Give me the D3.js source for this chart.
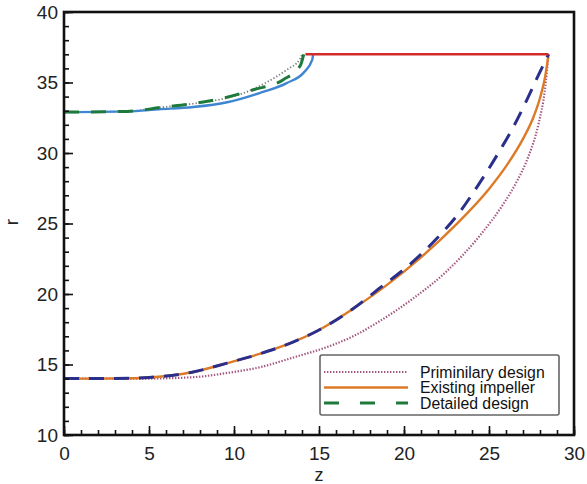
<!DOCTYPE html>
<html>
<head>
<meta charset="utf-8">
<script src="https://cdn.jsdelivr.net/npm/d3@7"></script>
<style>
  html, body { margin: 0; padding: 0; background: #fff; }
  svg { display: block; font-family: "Liberation Sans", Arial, sans-serif; }
</style>
</head>
<body>
<svg id="chart" width="587" height="484"></svg>
<script>
// Meridional profile of the impeller: hub (lower) and shroud (upper) contours, r vs z

// Hub contours
const hubExistingZ = [0, 2, 4, 5, 7.6, 9.6, 11.5, 13.5, 15, 17, 19, 21, 23, 25, 26, 27, 27.6, 28, 28.3, 28.5];
const hubExistingR = [14, 14, 14.02, 14.08, 14.47, 15.1, 15.75, 16.6, 17.45, 18.95, 20.65, 22.6, 24.85, 27.45, 29.05, 31.0, 32.5, 33.9, 35.4, 37];

const hubDetailedZ = [0, 2, 4, 5, 7.6, 9.6, 11.5, 13.5, 15, 17, 18.6, 20.2, 21.7, 23.3, 24.3, 25.5, 26.5, 27.2, 27.9, 28.5];
const hubDetailedR = [14, 14, 14.02, 14.08, 14.47, 15.1, 15.75, 16.6, 17.45, 18.95, 20.45, 21.95, 23.65, 25.85, 27.6, 29.9, 32.0, 33.7, 35.5, 37];

const hubPrelimZ = [0, 3, 4.65, 7.6, 9.6, 11.5, 13.5, 15.5, 17, 18.6, 20.5, 22.5, 24.5, 25.8, 26.6, 27.3, 27.9, 28.3, 28.5];
const hubPrelimR = [14, 14, 14.0, 14.1, 14.4, 14.8, 15.5, 16.25, 17.0, 18.1, 19.65, 21.6, 24.2, 26.3, 27.9, 29.7, 32.0, 34.6, 37];

// Shroud contours
const shroudExistingZ = [0, 3.7, 5.6, 7.6, 9.6, 11.5, 13.1, 14.1, 14.6, 14.65];
const shroudExistingR = [32.9, 32.95, 33.1, 33.26, 33.6, 34.25, 34.96, 35.7, 36.6, 37];

const shroudDetailedZ = [0, 3.7, 5.8, 7.6, 9.4, 11.1, 12.9, 13.9, 14.1];
const shroudDetailedR = [32.9, 32.95, 33.25, 33.5, 33.9, 34.47, 35.2, 36.2, 37];

const shroudPrelimZ = [0, 3.7, 5.8, 7.6, 9.4, 10.2, 11.9, 13.1, 13.9, 14.0];
const shroudPrelimR = [32.9, 32.95, 33.25, 33.5, 33.85, 34.1, 35.0, 35.9, 36.7, 37];

// Shroud outlet (constant radius)
const outletZ = [14.2, 28.5];
const outletR = [37, 37];

const xTicks = [0, 5, 10, 15, 20, 25, 30];
const yTicks = [10, 15, 20, 25, 30, 35, 40];
const legendLabels = ["Priminilary design", "Existing impeller", "Detailed design"];

const svg = d3.select("#chart");
const margin = { left: 64, top: 12, right: 13, bottom: 49 };
const W = 587 - margin.left - margin.right;
const H = 484 - margin.top - margin.bottom;

const x = d3.scaleLinear().domain([0, 30]).range([0, W]);
const y = d3.scaleLinear().domain([10, 40]).range([H, 0]);

const g = svg.append("g").attr("transform", `translate(${margin.left},${margin.top})`);

const zip = (zs, rs) => zs.map((z, i) => [z, rs[i]]);
const line = d3.line().x(d => x(d[0])).y(d => y(d[1])).curve(d3.curveMonotoneX);

const series = [
  { z: hubPrelimZ, r: hubPrelimR, color: "#a4567f", width: 2.2, dash: "1.4 1.6" },
  { z: hubExistingZ, r: hubExistingR, color: "#dc7a27", width: 2.4, dash: null },
  { z: hubDetailedZ, r: hubDetailedR, color: "#2b2f8c", width: 3, dash: "15 10" },
  { z: shroudPrelimZ, r: shroudPrelimR, color: "#7a7a7a", width: 1.8, dash: "1.3 2" },
  { z: shroudExistingZ, r: shroudExistingR, color: "#3f86d2", width: 2.4, dash: null },
  { z: shroudDetailedZ, r: shroudDetailedR, color: "#1e7a3a", width: 3, dash: "15 12" },
  { z: outletZ, r: outletR, color: "#d42a2a", width: 2.6, dash: null }
];

g.selectAll("path.curve").data(series).enter().append("path")
  .attr("class", "curve")
  .attr("d", s => line(zip(s.z, s.r)))
  .attr("fill", "none")
  .attr("stroke", s => s.color)
  .attr("stroke-width", s => s.width)
  .attr("stroke-dasharray", s => s.dash);

// Axes: inward ticks, majors every 5, minors every 1
const xMinor = g.append("g").attr("transform", `translate(0,${H})`)
  .call(d3.axisBottom(x).tickValues(d3.range(0, 31, 1)).tickSize(-5).tickFormat(""));
const yMinor = g.append("g")
  .call(d3.axisLeft(y).tickValues(d3.range(10, 41, 1)).tickSize(-5).tickFormat(""));
const xMajor = g.append("g").attr("transform", `translate(0,${H})`)
  .call(d3.axisBottom(x).tickValues(xTicks).tickSize(-9).tickPadding(12).tickFormat(d3.format("d")));
const yMajor = g.append("g")
  .call(d3.axisLeft(y).tickValues(yTicks).tickSize(-9).tickPadding(6).tickFormat(d3.format("d")));

[xMinor, yMinor, xMajor, yMajor].forEach(a => {
  a.select(".domain").remove();
  a.selectAll(".tick line").attr("stroke", "#111").attr("stroke-width", 1.6);
  a.selectAll("text").attr("font-size", 19).attr("fill", "#222")
    .attr("font-family", "'Liberation Sans', Arial, sans-serif");
});

// Plot frame
g.append("rect").attr("x", 0).attr("y", 0).attr("width", W).attr("height", H)
  .attr("fill", "none").attr("stroke", "#111").attr("stroke-width", 2.6);

// Axis titles
svg.append("text").attr("x", margin.left + W / 2).attr("y", 481)
  .attr("text-anchor", "middle").attr("font-size", 18).attr("fill", "#222").text("z");
svg.append("text").attr("transform", "translate(18,222) rotate(-90)")
  .attr("text-anchor", "middle").attr("font-size", 19).attr("fill", "#222").text("r");

// Legend
const legend = g.append("g").attr("transform", `translate(${320 - margin.left},${355 - margin.top})`);
legend.append("rect").attr("width", 239).attr("height", 60).attr("rx", 2)
  .attr("fill", "#fff").attr("stroke", "#666").attr("stroke-width", 1.6);
const legendStyles = [
  { color: "#a4567f", width: 2.2, dash: "1.4 1.6" },
  { color: "#dc7a27", width: 2.6, dash: null },
  { color: "#1e7a3a", width: 3, dash: "15 21" }
];
legendLabels.forEach((label, i) => {
  const ly = 17 + i * 15.5;
  legend.append("line").attr("x1", 4).attr("x2", 88).attr("y1", ly).attr("y2", ly)
    .attr("stroke", legendStyles[i].color).attr("stroke-width", legendStyles[i].width)
    .attr("stroke-dasharray", legendStyles[i].dash);
  legend.append("text").attr("x", 100).attr("y", ly + 5.5)
    .attr("font-size", 15.8).attr("fill", "#111").text(label);
});
</script>
</body>
</html>
